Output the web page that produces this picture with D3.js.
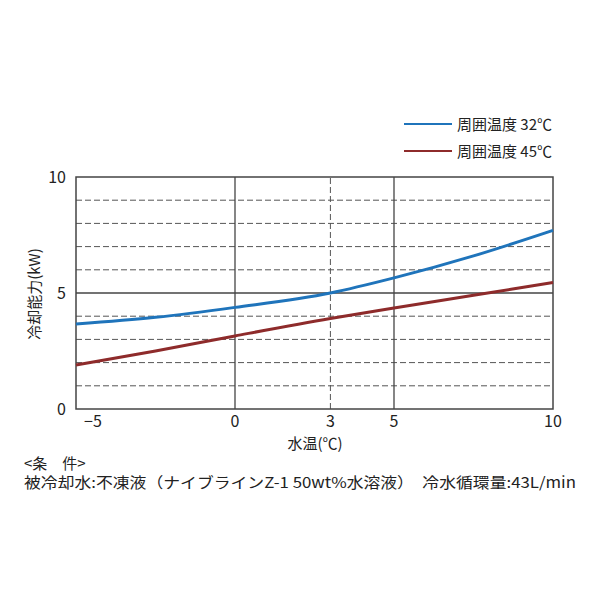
<!DOCTYPE html>
<html><head><meta charset="utf-8">
<script src="https://cdn.jsdelivr.net/npm/d3@7"></script>
<style>body{margin:0;background:#fff}text{font-family:"Noto Sans CJK JP","Noto Sans",sans-serif}</style>
</head><body><svg id="c" width="600" height="600"></svg>
<script>
const waterTemp = [-5, -2.5, 0, 3, 5, 7.5, 10]
const blue32 = [3.66, 3.95, 4.38, 5.0, 5.65, 6.6, 7.7]
const red45 = [1.9, 2.5, 3.15, 3.9, 4.35, 4.9, 5.45]
const xTicks = [-5, 0, 3, 5, 10]
const yTicks = [0, 5, 10]
const legendLabels = ['周囲温度 32℃', '周囲温度 45℃']
const colors = ['#1f74bb', '#8e2b2b']

const svg = d3.select('#c')
const x = d3.scaleLinear().domain([-5, 10]).range([76, 553])
const y = d3.scaleLinear().domain([0, 10]).range([409, 177])

// dashed horizontal grid
svg.append('g').selectAll('line').data(d3.range(1, 10).filter(v => v !== 5)).enter()
    .append('line')
    .attr('x1', x(-5)).attr('x2', x(10))
    .attr('y1', d => y(d)).attr('y2', d => y(d))
    .attr('stroke', '#555').attr('stroke-dasharray', '6,3').attr('stroke-width', 1)
svg.append('line').attr('x1', x(3)).attr('x2', x(3)).attr('y1', y(0)).attr('y2', y(10))
    .attr('stroke', '#555').attr('stroke-dasharray', '6,3')
svg.append('line').attr('x1', x(-5)).attr('x2', x(10)).attr('y1', y(5)).attr('y2', y(5))
    .attr('stroke', '#444').attr('stroke-width', 1.3)
;[0, 5].forEach(v => svg.append('line').attr('x1', x(v)).attr('x2', x(v))
    .attr('y1', y(0)).attr('y2', y(10)).attr('stroke', '#444').attr('stroke-width', 1.3))
svg.append('rect').attr('x', x(-5)).attr('y', y(10)).attr('width', x(10) - x(-5))
    .attr('height', y(0) - y(10)).attr('fill', 'none').attr('stroke', '#444').attr('stroke-width', 1.5)

const line = d3.line().x((d, i) => x(waterTemp[i])).y(d => y(d)).curve(d3.curveMonotoneX)
;[blue32, red45].forEach((s, i) => svg.append('path').attr('d', line(s))
    .attr('fill', 'none').attr('stroke', colors[i]).attr('stroke-width', 3))

svg.append('g').selectAll('text').data(xTicks).enter().append('text')
    .attr('x', d => d === -5 ? x(d) + 17 : x(d)).attr('y', 427)
    .attr('text-anchor', 'middle').attr('font-size', 16).attr('fill', '#222')
    .text(d => d < 0 ? '−' + (-d) : d)
svg.append('g').selectAll('text').data(yTicks).enter().append('text')
    .attr('x', 66).attr('y', d => y(d) + 6)
    .attr('text-anchor', 'end').attr('font-size', 16).attr('fill', '#222').text(d => d)

svg.append('text').attr('x', 315).attr('y', 449).attr('text-anchor', 'middle')
    .attr('font-size', 15).attr('fill', '#222').text('水温(℃)')
svg.append('text').attr('transform', 'translate(40,294) rotate(-90)').attr('text-anchor', 'middle')
    .attr('font-size', 15).attr('fill', '#222').text('冷却能力(kW)')

legendLabels.forEach((t, i) => {
    const ly = 124 + i * 27
    svg.append('line').attr('x1', 404).attr('x2', 452).attr('y1', ly).attr('y2', ly)
        .attr('stroke', colors[i]).attr('stroke-width', 2)
    svg.append('text').attr('x', 457).attr('y', ly + 6).attr('font-size', 15)
        .attr('fill', '#222').text(t)
})

svg.append('text').attr('x', 24).attr('y', 469).attr('font-size', 15).attr('fill', '#222')
    .attr('xml:space', 'preserve').text('<条　件>')
svg.append('text').attr('x', 24).attr('y', 488).attr('font-size', 15).attr('fill', '#222')
    .attr('textLength', 552).attr('lengthAdjust', 'spacingAndGlyphs')
    .text('被冷却水:不凍液（ナイブラインZ-1 50wt%水溶液）　冷水循環量:43L/min')
</script></body></html>
